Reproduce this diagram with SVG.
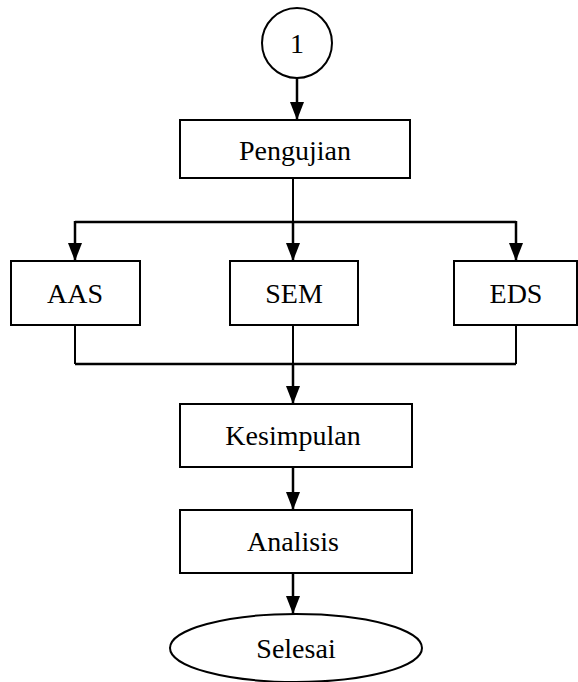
<svg xmlns="http://www.w3.org/2000/svg" width="578" height="682" viewBox="0 0 578 682">
<style>
.n{fill:#fff;stroke:#000;stroke-width:2}
.t{font-family:"Liberation Serif","Times New Roman",serif;font-size:28px;fill:#000;text-anchor:middle}
.c{fill:none;stroke:#000;stroke-width:2.5}
.l{fill:none;stroke:#000;stroke-width:2}
</style>
<defs>
<marker id="ah" markerWidth="18" markerHeight="14" refX="18" refY="7" orient="auto" markerUnits="userSpaceOnUse" viewBox="0 0 18 14" preserveAspectRatio="none">
<path d="M0,0 L18,7 L0,14 Z" fill="#000"/>
</marker>
</defs>
<rect width="578" height="682" fill="#fff"/>
<g id="connectors">
<path class="c" d="M297,78 V120" marker-end="url(#ah)"/>
<path class="l" d="M293,178 V222"/>
<path class="c" d="M75,222 H516"/>
<path class="c" d="M75,221 V261" marker-end="url(#ah)"/>
<path class="c" d="M293,221 V261" marker-end="url(#ah)"/>
<path class="c" d="M516,221 V261" marker-end="url(#ah)"/>
<path class="l" d="M75,325 V364"/>
<path class="l" d="M516,325 V364"/>
<path class="c" d="M75,364 H516"/>
<path class="l" d="M293,325 V364"/>
<path class="c" d="M293,364 V404" marker-end="url(#ah)"/>
<path class="c" d="M293,467 V510" marker-end="url(#ah)"/>
<path class="c" d="M293,573 V614" marker-end="url(#ah)"/>
</g>
<g id="start">
<circle class="n" cx="297" cy="43" r="35"/>
<text class="t" x="297" y="53">1</text>
</g>
<g id="pengujian">
<rect class="n" x="180" y="120" width="230" height="58"/>
<text class="t" x="295" y="160">Pengujian</text>
</g>
<g id="aas">
<rect class="n" x="11" y="261" width="129" height="64"/>
<text class="t" x="75" y="303">AAS</text>
</g>
<g id="sem">
<rect class="n" x="230" y="261" width="128" height="64"/>
<text class="t" x="294" y="303">SEM</text>
</g>
<g id="eds">
<rect class="n" x="454" y="261" width="123" height="64"/>
<text class="t" x="516" y="303">EDS</text>
</g>
<g id="kesimpulan">
<rect class="n" x="180" y="404" width="232" height="63"/>
<text class="t" x="293" y="445">Kesimpulan</text>
</g>
<g id="analisis">
<rect class="n" x="180" y="510" width="232" height="63"/>
<text class="t" x="293" y="551">Analisis</text>
</g>
<g id="selesai">
<ellipse class="n" cx="296" cy="648" rx="126" ry="34"/>
<text class="t" x="296" y="658">Selesai</text>
</g>
</svg>
